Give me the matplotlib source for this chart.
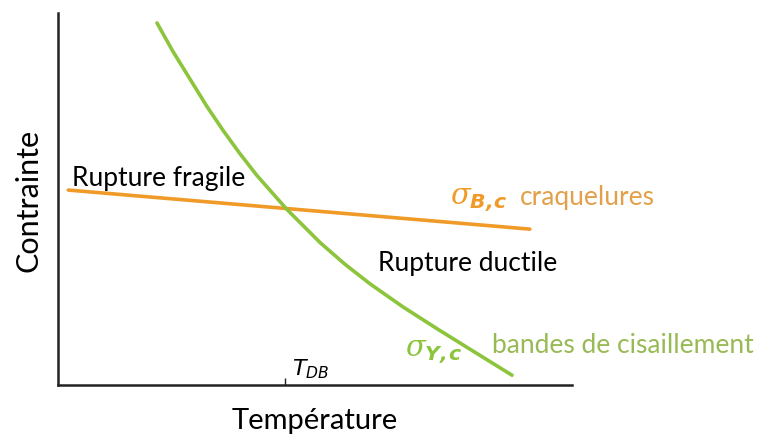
import numpy as np
import matplotlib.pyplot as plt

plt.rcParams['font.family'] = ['Lato', 'DejaVu Sans']
plt.rcParams['mathtext.fontset'] = 'custom'
plt.rcParams['mathtext.it'] = 'DejaVu Serif:italic'
plt.rcParams['mathtext.bf'] = 'DejaVu Sans:italic:bold'
plt.rcParams['mathtext.sf'] = 'DejaVu Sans:italic'

# craze stress (orange), roughly linear
temp_craze = [2.0, 91.8]
stress_craze = [52.4, 41.9]

# yield stress (green)
temp_yield = [19.26, 22.37, 28.99, 32.10, 35.41, 38.72, 44.55, 50.97,
              55.84, 60.70, 67.12, 73.74, 80.16, 88.33]
stress_yield = [97.31, 89.65, 74.84, 68.47, 62.15, 56.29, 47.18, 38.31,
                32.45, 27.20, 20.99, 15.13, 9.62, 2.63]

t_db = 44.2

orange = '#F09A28'
green = '#8CC43C'
orange_txt = '#E3A04A'
green_txt = '#98BA55'

fig = plt.figure(figsize=(7.66, 4.39), dpi=100)
ax = fig.add_axes([58/766, 53/439, 514/766, 372/439])

ax.plot(temp_craze, stress_craze, color=orange, lw=2.6, solid_capstyle='round')
ax.plot(temp_yield, stress_yield, color=green, lw=2.6, solid_capstyle='round',
        solid_joinstyle='round')

ax.set_xlim(0, 100)
ax.set_ylim(0, 100)

ax.spines['top'].set_visible(False)
ax.spines['right'].set_visible(False)
for s in ['left', 'bottom']:
    ax.spines[s].set_linewidth(1.8)
    ax.spines[s].set_color('#222222')

ax.set_yticks([])
ax.set_xticks([t_db])
ax.set_xticklabels([])
ax.tick_params(axis='x', direction='in', length=5, width=1, color='#222222')

ax.set_xlabel('Température', fontsize=21, labelpad=12)
ax.set_ylabel('Contrainte', fontsize=22, labelpad=11)

ax.text(2.7, 55.9, 'Rupture fragile', fontsize=19, ha='left', va='center')
ax.text(62.3, 32.8, 'Rupture ductile', fontsize=19, ha='left', va='center')
ax.text(76.3, 49.8, r'$\sigma_{\mathbf{B,\!c}}$', fontsize=21, color=orange,
        ha='left', va='center')
ax.text(89.9, 50.8, 'craquelures', fontsize=19, color=orange_txt, ha='left',
        va='center', clip_on=False)
ax.text(67.5, 9.0, r'$\sigma_{\mathbf{Y,\!c}}$', fontsize=21, color=green,
        ha='left', va='center')
ax.text(84.4, 10.8, 'bandes de cisaillement', fontsize=19, color=green_txt,
        ha='left', va='center', clip_on=False)
ax.text(45.5, 4.6, r'$\mathsf{T}_{\mathsf{DB}}$', fontsize=16, ha='left',
        va='center')

fig.savefig('out.png', dpi=100)
